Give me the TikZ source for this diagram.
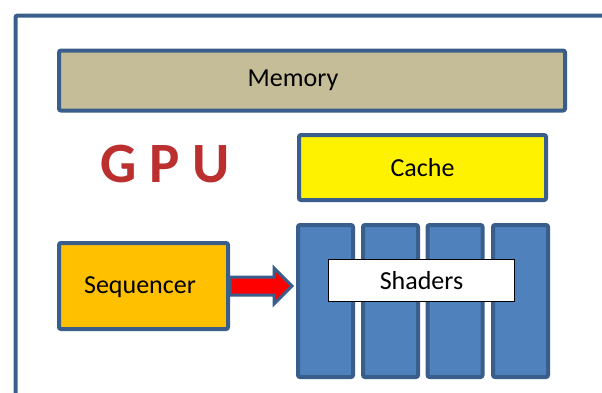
\documentclass[tikz,border=0pt]{standalone}
\usepackage{fontspec}
\setmainfont{Carlito}
\usetikzlibrary{calc}
\definecolor{edgeblue}{HTML}{3A5E8C}
\definecolor{memfill}{HTML}{C4BD97}
\definecolor{seqfill}{HTML}{FFC000}
\definecolor{shadefill}{HTML}{4F81BD}
\definecolor{gpured}{HTML}{BC2F2F}
\tikzset{
  box/.style={draw=edgeblue, line width=4pt, rounded corners=2pt, inner sep=0pt},
  lbl/.style={font=\fontsize{26}{30}\selectfont, text=black, inner sep=0pt},
  col/.style={box, fill=shadefill, minimum width=55pt, minimum height=152pt},
}
\begin{document}
\begin{tikzpicture}[x=1pt,y=-1pt]
\useasboundingbox (0,0) rectangle (602,392);
\fill[white] (0,0) rectangle (602,392);
\clip (0,0) rectangle (602,392);
% outer frame
\node[box, minimum width=620pt, minimum height=420pt, anchor=north west] (frame) at (13.5,13.5) {};
% memory
\node[box, fill=memfill, minimum width=506pt, minimum height=60pt] (memory) at (312,80.5) {};
\node[lbl] (memtext) at (293,80.5) {Memory};
% cache
\node[box, fill=yellow, minimum width=247pt, minimum height=65pt, lbl] (cache) at (422.5,167.5) {Cache};
% GPU title
\node[font=\fontsize{57}{60}\bfseries\selectfont, text=gpured, inner sep=0pt] (gpu) at (165,164) {G P U};
% sequencer
\node[box, fill=seqfill, minimum width=169pt, minimum height=86pt] (seq) at (143.5,286) {};
\node[lbl] (seqtext) at (140,287) {Sequencer};
% shader columns
\node[col] (c1) at (325.5,301) {};
\node[col] (c2) at (390.5,301) {};
\node[col] (c3) at (455,301) {};
\node[col] (c4) at (520.5,301) {};
\node[draw=black, line width=1pt, fill=white, minimum width=186pt, minimum height=42pt, lbl] (shaders) at (421.5,280.5) {Shaders};
% arrow
\draw[fill=red, draw=edgeblue, line width=3pt, line join=miter]
  ($(seq.east)+(0,-9)$) -- ++(44,0) -- ++(0,-9) -- ($(c1.west|-seq.east)+(-4,0)$)
  -- ($(seq.east)+(44,18)$) -- ++(0,-9) -- ++(-44,0) -- cycle;
\end{tikzpicture}
\end{document}
